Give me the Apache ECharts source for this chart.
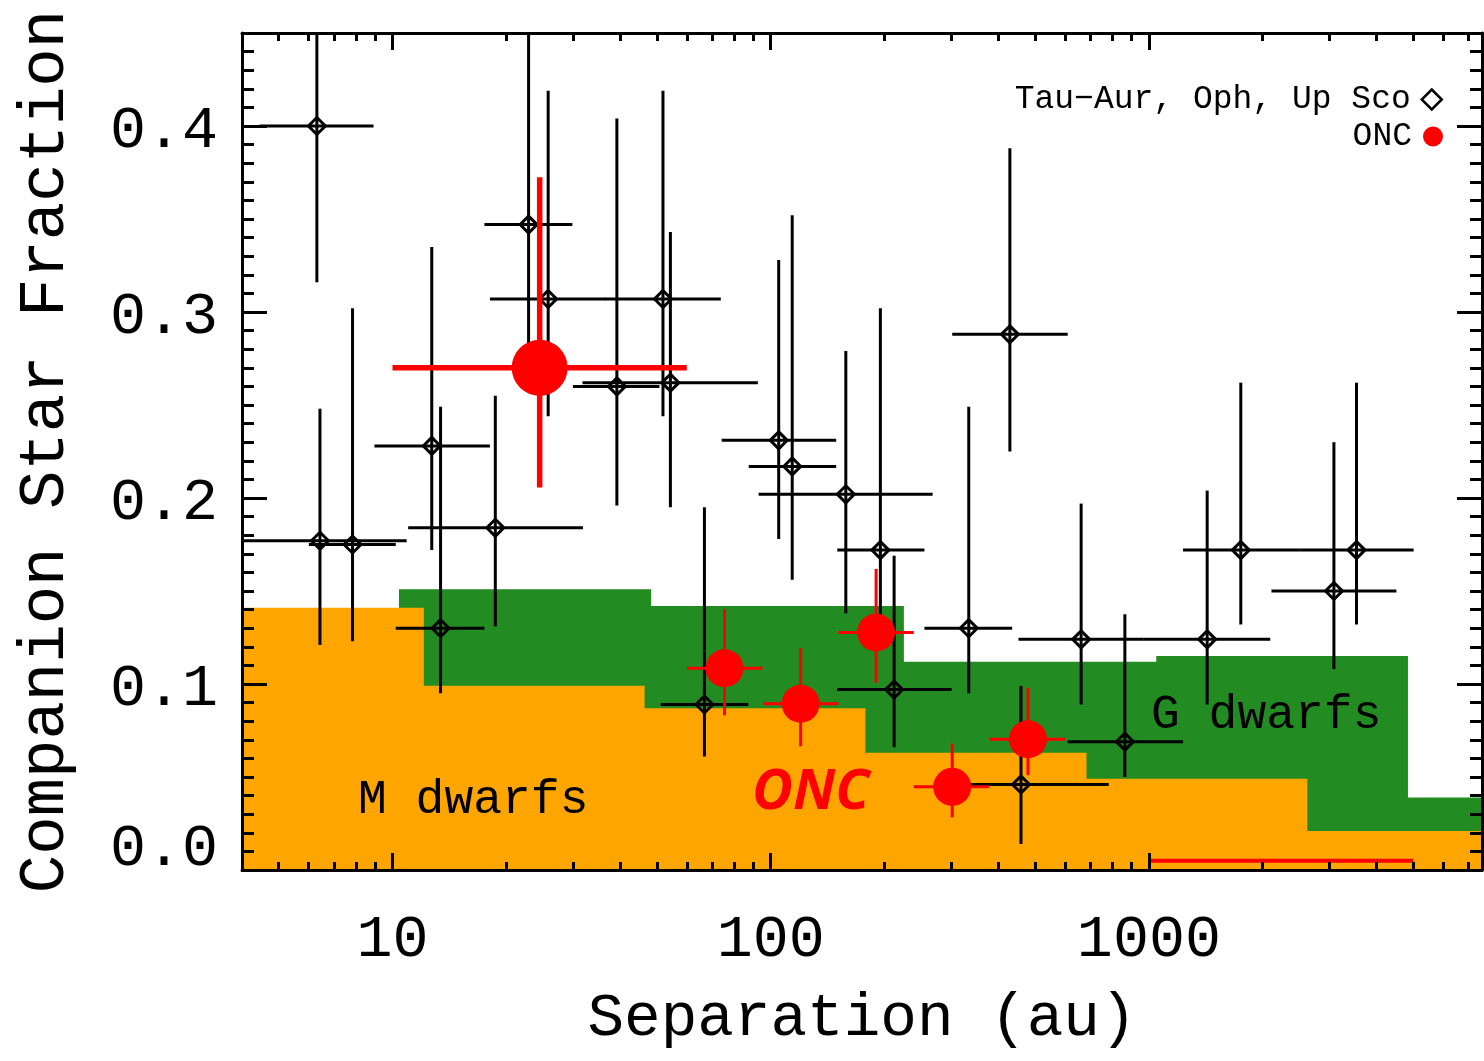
<!DOCTYPE html>
<html>
<head>
<meta charset="utf-8">
<title>Companion Star Fraction vs Separation</title>
<script src="https://cdn.jsdelivr.net/npm/echarts@6/dist/echarts.min.js"></script>
<style>
  html, body { margin: 0; padding: 0; background: #fff; }
  #chart { width: 1484px; height: 1061px; }
</style>
</head>
<body>
<div id="chart"></div>
<script>
// Tau-Aur, Oph, Up Sco (separation in au)
var starSep    = [6.31, 22.9, 25.8, 39.2, 54.3, 51.9, 12.7, 6.43, 7.84, 13.4, 18.7, 105, 114, 158, 195, 212, 66.8, 334, 429, 662, 1426, 1750, 3540, 3085, 864, 459];
var starSepLo  = [4.45, 17.5, 18.1, 30.0, 31.8, 36.4, 8.96, 3.9, 6.01, 10.2, 11.0, 74.2, 87.5, 92.9, 150, 150, 51.2, 255, 302, 452, 970, 1231, 2496, 2109, 610, 270];
var starSepHi  = [8.91, 29.9, 36.6, 50.8, 92.5, 73.8, 18.1, 10.9, 10.2, 17.5, 31.9, 149, 149, 268, 255, 301, 87.3, 435, 610, 970, 2094, 2496, 5012, 4513, 1231, 783];
var starFrac   = [0.400, 0.347, 0.307, 0.260, 0.262, 0.307, 0.228, 0.177, 0.175, 0.130, 0.184, 0.231, 0.217, 0.202, 0.172, 0.097, 0.089, 0.130, 0.288, 0.124, 0.124, 0.172, 0.172, 0.150, 0.069, 0.046];
var starFracLo = [0.316, 0.265, 0.244, 0.196, 0.195, 0.244, 0.172, 0.121, 0.123, 0.095, 0.131, 0.178, 0.156, 0.138, 0.125, 0.066, 0.061, 0.095, 0.225, 0.089, 0.089, 0.132, 0.132, 0.108, 0.050, 0.014];
var starFracHi = [0.46, 0.46, 0.419, 0.404, 0.343, 0.419, 0.335, 0.248, 0.302, 0.249, 0.255, 0.328, 0.352, 0.279, 0.302, 0.169, 0.195, 0.249, 0.388, 0.197, 0.204, 0.262, 0.262, 0.230, 0.1375, 0.099];

// ONC bins
var oncSep    = [75.5, 120, 190, 302, 479];
var oncSepLo  = [60.1, 95.5, 151, 239, 379];
var oncSepHi  = [95.1, 151, 239, 378, 601];
var oncFrac   = [0.1085, 0.0894, 0.1277, 0.0447, 0.0703];
var oncFracLo = [0.0832, 0.0665, 0.1005, 0.0283, 0.051];
var oncFracHi = [0.1404, 0.1193, 0.1619, 0.068, 0.098];

// ONC over the whole 10-60 au range
var oncAllSep    = [24.5];
var oncAllSepLo  = [10];
var oncAllSepHi  = [60];
var oncAllFrac   = [0.270];
var oncAllFracLo = [0.2056];
var oncAllFracHi = [0.3725];

// ONC wide bin near zero
var oncLimSepLo = [1000];
var oncLimSepHi = [5000];
var oncLimFrac  = [0.005];

// field star histograms: bin edges (au) and fractions
var gEdges = [10.4, 48.3, 225, 1046, 4842, 22000];
var gFrac  = [0.151, 0.142, 0.112, 0.115, 0.039];
var mEdges = [4, 12.1, 46.4, 178, 684, 2624, 10070];
var mFrac  = [0.141, 0.099, 0.087, 0.063, 0.049, 0.021];

var xTicks = [10, 100, 1000];
var xMinor = [5, 6, 7, 8, 9, 20, 30, 40, 50, 60, 70, 80, 90, 200, 300, 400, 500, 600, 700, 800, 900, 2000, 3000, 4000, 5000, 6000, 7000];
var yTicks = [0, 0.1, 0.2, 0.3, 0.4];
var yLabels = ['0.0', '0.1', '0.2', '0.3', '0.4'];

var lg = Math.log10;
var yMinor = [];
for (var i = 0; i <= 45; i++) yMinor.push(i / 100);

var mono = 'Liberation Mono';
var chart = echarts.init(document.getElementById('chart'));

function histData(edges, frac) {
  var d = frac.map(function (f, i) { return [lg(edges[i]), f]; });
  d.push([lg(edges[edges.length - 1]), frac[frac.length - 1]]);
  return d;
}

function barData(sep, lo, hi, f, flo, fhi) {
  return sep.map(function (s, i) {
    return [lg(s), f[i], lg(lo[i]), lg(hi[i]), flo[i], fhi[i]];
  });
}

function errRender(color, lw, marker, size) {
  return function (params, api) {
    var c = api.coord([api.value(0), api.value(1)]);
    var l = api.coord([api.value(2), api.value(1)]);
    var h = api.coord([api.value(3), api.value(1)]);
    var b = api.coord([api.value(0), api.value(4)]);
    var t = api.coord([api.value(0), api.value(5)]);
    var st = { stroke: color, lineWidth: lw };
    var kids = [
      { type: 'line', shape: { x1: l[0], y1: c[1], x2: h[0], y2: c[1] }, style: st },
      { type: 'line', shape: { x1: c[0], y1: b[1], x2: c[0], y2: t[1] }, style: st }
    ];
    if (marker === 'diamond') {
      kids.push({ type: 'polygon', shape: { points: [[c[0], c[1] - size], [c[0] + size, c[1]], [c[0], c[1] + size], [c[0] - size, c[1]]] },
        style: { fill: 'rgba(0,0,0,0)', stroke: color, lineWidth: 3 } });
    } else {
      kids.push({ type: 'circle', shape: { cx: c[0], cy: c[1], r: size }, style: { fill: color } });
    }
    return { type: 'group', children: kids };
  };
}

function xAx(pos, ticks, len, withLine, withLabel) {
  var a = {
    type: 'value', position: pos, min: lg(4), max: lg(7600), z: 10,
    axisLine: { show: withLine, onZero: false, lineStyle: { color: '#000', width: 3 } },
    axisTick: { show: true, inside: true, length: len, customValues: ticks.map(lg), lineStyle: { color: '#000', width: 3 } },
    axisLabel: { show: false },
    splitLine: { show: false }
  };
  if (withLabel) {
    a.axisLabel = {
      show: true, customValues: ticks.map(lg), margin: 40, color: '#000', fontFamily: mono, fontSize: 60,
      formatter: function (v) { return String(Math.round(Math.pow(10, v))); }
    };
    a.name = 'Separation (au)';
    a.nameLocation = 'middle';
    a.nameGap = 118;
    a.nameTextStyle = { color: '#000', fontFamily: mono, fontSize: 61 };
  }
  return a;
}

function yAx(pos, ticks, len, withLine, withLabel) {
  var a = {
    type: 'value', position: pos, min: 0, max: 0.45, z: 10,
    axisLine: { show: withLine, onZero: false, lineStyle: { color: '#000', width: 3 } },
    axisTick: { show: true, inside: true, length: len, customValues: ticks, lineStyle: { color: '#000', width: 3 } },
    axisLabel: { show: false },
    splitLine: { show: false }
  };
  if (withLabel) {
    a.axisLabel = {
      show: true, customValues: ticks, margin: 24,
      formatter: function (v) {
        var k = yTicks.indexOf(v);
        var s = k >= 0 ? yLabels[k] : v.toFixed(1);
        return v === 0 ? '{z|' + s + '}' : '{n|' + s + '}';
      },
      rich: {
        z: { color: '#000', fontFamily: mono, fontSize: 60, padding: [0, 0, 42, 0] },
        n: { color: '#000', fontFamily: mono, fontSize: 60, padding: [10, 0, 0, 0] }
      }
    };
    a.name = 'Companion Star Fraction';
    a.nameLocation = 'middle';
    a.nameGap = 164;
    a.nameTextStyle = { color: '#000', fontFamily: mono, fontSize: 64 };
  }
  return a;
}

var starName = 'Tau\u2212Aur, Oph, Up Sco';

var option = {
  backgroundColor: '#fff',
  animation: false,
  grid: { left: 242, right: 2, top: 33, bottom: 191 },
  xAxis: [
    xAx('bottom', xTicks, 17, true, true),
    xAx('bottom', xMinor, 8, false, false),
    xAx('top', xTicks, 17, true, false),
    xAx('top', xMinor, 8, false, false)
  ],
  yAxis: [
    yAx('left', yTicks, 25, true, true),
    yAx('left', yMinor, 12, false, false),
    yAx('right', yTicks, 25, true, false),
    yAx('right', yMinor, 12, false, false)
  ],
  legend: [
    {
      data: [{ name: starName, icon: 'diamond', itemStyle: { color: 'rgba(0,0,0,0)', borderColor: '#000', borderWidth: 2.5 } }],
      right: 41, top: 83, padding: 0, align: 'right', itemWidth: 20, itemHeight: 20, selectedMode: false,
      textStyle: { color: '#000', fontFamily: mono, fontSize: 33, padding: [0, 6, 0, 0] }
    },
    {
      data: [{ name: 'ONC', icon: 'circle', itemStyle: { color: '#ff0000' } }],
      right: 41, top: 120, padding: 0, align: 'right', itemWidth: 20, itemHeight: 20, selectedMode: false,
      textStyle: { color: '#000', fontFamily: mono, fontSize: 33, padding: [0, 6, 0, 0] }
    }
  ],
  graphic: [
    { type: 'text', z: 20, x: 358, y: 800, style: { text: 'M dwarfs', fill: '#000', font: '48px "Liberation Mono"', verticalAlign: 'middle' } },
    { type: 'text', z: 20, x: 1151, y: 715, style: { text: 'G dwarfs', fill: '#000', font: '48px "Liberation Mono"', verticalAlign: 'middle' } },
    { type: 'text', z: 20, x: 752, y: 793, style: { text: 'ONC', fill: '#ff0000', font: 'italic bold 56px "Open Sans"', verticalAlign: 'middle' } }
  ],
  series: [
    {
      name: 'G dwarfs', type: 'line', step: 'end', symbol: 'none', z: 1,
      data: histData(gEdges, gFrac),
      lineStyle: { opacity: 0 }, areaStyle: { color: '#228b22', opacity: 1 }
    },
    {
      name: 'M dwarfs', type: 'line', step: 'end', symbol: 'none', z: 1,
      data: histData(mEdges, mFrac),
      lineStyle: { opacity: 0 }, areaStyle: { color: '#ffa500', opacity: 1 }
    },
    {
      name: starName, type: 'custom', clip: true, z: 3,
      itemStyle: { color: '#000' },
      encode: { x: [0, 2, 3], y: [1, 4, 5] },
      renderItem: errRender('#000', 3, 'diamond', 8.5),
      data: barData(starSep, starSepLo, starSepHi, starFrac, starFracLo, starFracHi)
    },
    {
      name: 'ONC', type: 'custom', clip: true, z: 4,
      itemStyle: { color: '#ff0000' },
      encode: { x: [0, 2, 3], y: [1, 4, 5] },
      renderItem: errRender('#ff0000', 3, 'circle', 19),
      data: barData(oncSep, oncSepLo, oncSepHi, oncFrac, oncFracLo, oncFracHi)
    },
    {
      name: 'ONC', type: 'custom', clip: true, z: 4,
      itemStyle: { color: '#ff0000' },
      encode: { x: [0, 2, 3], y: [1, 4, 5] },
      renderItem: errRender('#ff0000', 5.5, 'circle', 28),
      data: barData(oncAllSep, oncAllSepLo, oncAllSepHi, oncAllFrac, oncAllFracLo, oncAllFracHi)
    },
    {
      name: 'ONC', type: 'custom', clip: true, z: 4,
      itemStyle: { color: '#ff0000' },
      encode: { x: [0, 1], y: 2 },
      renderItem: function (params, api) {
        var a = api.coord([api.value(0), api.value(2)]);
        var b = api.coord([api.value(1), api.value(2)]);
        return { type: 'line', shape: { x1: a[0], y1: a[1], x2: b[0], y2: b[1] }, style: { stroke: '#ff0000', lineWidth: 4 } };
      },
      data: oncLimSepLo.map(function (s, i) { return [lg(s), lg(oncLimSepHi[i]), oncLimFrac[i]]; })
    }
  ]
};

chart.setOption(option);
</script>
</body>
</html>
